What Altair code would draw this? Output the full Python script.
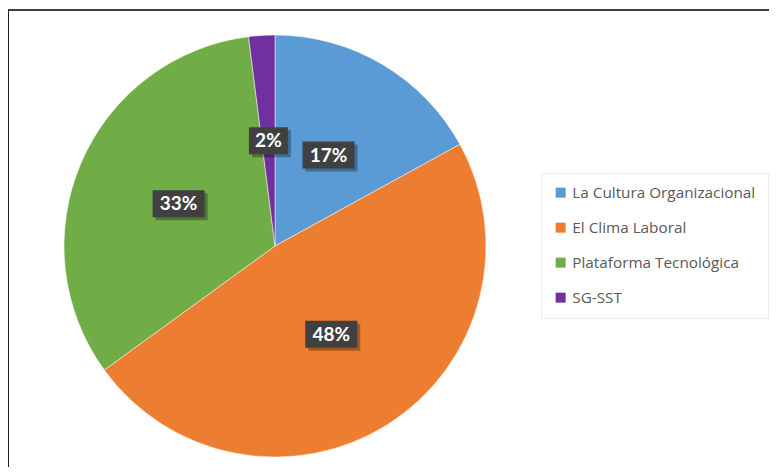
import altair as alt
import pandas as pd

categories = ["La Cultura Organizacional", "El Clima Laboral", "Plataforma Tecnológica", "SG-SST"]
values = [17, 48, 33, 2]
colors = ["#5B9BD5", "#ED7D31", "#70AD47", "#7030A0"]

df = pd.DataFrame({"category": categories, "value": values, "order": list(range(len(categories)))})

CX, CY, R, LR = 267, 236, 211, 105

base = alt.Chart(df)

pie = base.mark_arc(radius=R, stroke="white", strokeWidth=0.5).encode(
    theta=alt.Theta("value:Q", stack=True),
    order=alt.Order("order:Q"),
    color=alt.Color(
        "category:N",
        scale=alt.Scale(domain=categories, range=colors),
        sort=categories,
        legend=alt.Legend(
            title=None, orient="none", legendX=533, legendY=163,
            padding=12, strokeColor="#ececec", fillColor="white",
            symbolType="square", symbolSize=100, symbolStrokeWidth=0,
            labelFont="Open Sans", labelFontSize=15.3, labelColor="#595959",
            labelLimit=400, rowPadding=19, labelOffset=4,
        ),
    ),
    x=alt.value(CX), y=alt.value(CY),
)

lab = base.transform_window(
    cum="sum(value)", sort=[alt.SortField("order")], frame=[None, 0]
).transform_joinaggregate(
    total="sum(value)"
).transform_calculate(
    mid="(datum.cum - datum.value/2) / datum.total * 2 * PI",
    label="datum.value + '%'",
).transform_calculate(
    lx=f"{CX} + {LR} * sin(datum.mid)",
    ly=f"{CY} - {LR} * cos(datum.mid)",
    bw="13 * length(datum.label) + 13",
).transform_calculate(
    x1="datum.lx - datum.bw/2", x2="datum.lx + datum.bw/2",
    y1="datum.ly - 14", y2="datum.ly + 13",
    sx1="datum.lx - datum.bw/2 + 3", sx2="datum.lx + datum.bw/2 + 3",
    sy1="datum.ly - 11", sy2="datum.ly + 16",
)

shadow = lab.mark_rect(color="black", opacity=0.3).encode(
    x=alt.X("sx1:Q", scale=None, axis=None), x2="sx2:Q",
    y=alt.Y("sy1:Q", scale=None, axis=None), y2="sy2:Q",
)
box = lab.mark_rect(color="#404040").encode(
    x=alt.X("x1:Q", scale=None, axis=None), x2="x2:Q",
    y=alt.Y("y1:Q", scale=None, axis=None), y2="y2:Q",
)
txt = lab.mark_text(font="Lato", fontSize=19, fontWeight="bold", color="white", baseline="middle", align="center").encode(
    x=alt.X("lx:Q", scale=None, axis=None),
    y=alt.Y("ly:Q", scale=None, axis=None),
    text="label:N",
)

top_border = alt.Chart(df).mark_rule(color="#404040", strokeWidth=2).encode(
    x=alt.value(0), x2=alt.value(761), y=alt.value(0)
)
left_border = alt.Chart(df).mark_rule(color="#222222", strokeWidth=2).encode(
    x=alt.value(0), y=alt.value(0), y2=alt.value(457)
)

chart = alt.layer(pie, shadow, box, txt, top_border, left_border).properties(
    width=761, height=457,
    autosize=alt.AutoSizeParams(type="none"),
    padding={"left": 0, "top": 2, "right": 0, "bottom": 0},
).configure_view(stroke=None).configure(background="white")

chart.save("out.html", embed_options={"renderer": "svg", "actions": False})
